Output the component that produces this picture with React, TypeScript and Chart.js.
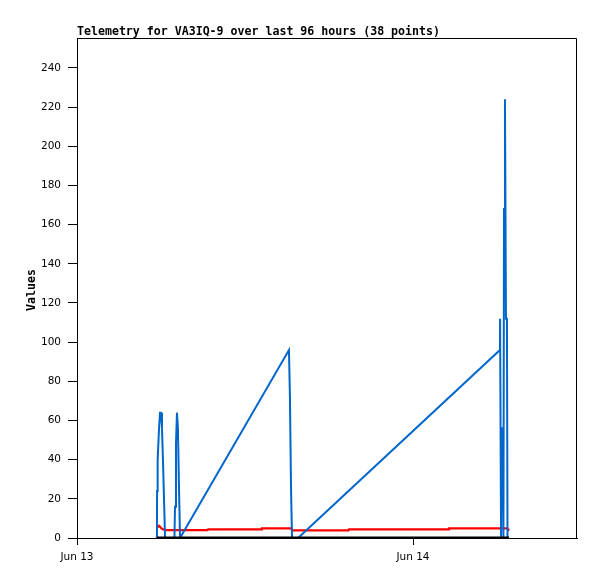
import React, { useEffect, useRef } from "react";
import { Chart, registerables } from "chart.js";

Chart.register(...registerables);

// Time in hours since Jun 13 00:00
const blueHours = [5.71, 5.72, 5.76, 5.86, 5.93, 6.0, 6.07, 6.14, 6.2, 6.29, 6.96, 7.0, 7.07, 7.14, 7.21, 7.29, 7.36, 15.14, 15.21, 15.29, 15.36, 15.79, 30.21, 30.22, 30.29, 30.36, 30.43, 30.46, 30.5, 30.57, 30.64, 30.71, 30.75];
const blueValues = [0, 24, 40, 56, 64, 64, 56, 40, 24, 0, 0, 16, 48, 64, 56, 24, 0, 96, 72, 24, 0, 0, 96, 112, 0, 56, 56, 0, 168, 224, 112, 112, 0];

const redHours = [5.71, 5.86, 6.04, 6.29, 9.32, 9.36, 13.18, 13.21, 15.32, 15.36, 19.39, 19.43, 26.54, 26.57, 30.75, 30.86];
const redValues = [5.2, 6.2, 4.8, 4.0, 4.0, 4.4, 4.4, 4.9, 4.9, 3.9, 3.9, 4.4, 4.4, 4.9, 4.9, 3.8];

const blackHours = [5.71, 30.86];
const blackValues = [0, 0];

const xTickHours = [0, 24];
const xTickLabels = ["Jun 13", "Jun 14"];
const yTickStep = 20;
const yMax = 255.3;
const xMax = 35.714;

const titleText = "Telemetry for VA3IQ-9 over last 96 hours (38 points)";
const yAxisLabel = "Values";

function pts(xs: number[], ys: number[]) {
  return xs.map((x, i) => ({ x, y: ys[i] }));
}

export default function App() {
  const ref = useRef<HTMLCanvasElement | null>(null);

  useEffect(() => {
    const canvas = ref.current;
    if (!canvas) return;
    const monoBold = "bold 11.6px 'DejaVu Sans Mono'";
    const decor = {
      id: "decor",
      beforeDraw(chart: any) {
        const ctx = chart.ctx;
        ctx.save();
        ctx.fillStyle = "#ffffff";
        ctx.fillRect(0, 0, chart.width, chart.height);
        ctx.restore();
      },
      afterDraw(chart: any) {
        const ctx = chart.ctx;
        const a = chart.chartArea;
        ctx.save();
        ctx.strokeStyle = "#000000";
        ctx.lineWidth = 1;
        ctx.beginPath();
        ctx.moveTo(Math.round(a.left) + 0.5, Math.round(a.top) + 0.5);
        ctx.lineTo(Math.round(a.right) - 0.5, Math.round(a.top) + 0.5);
        ctx.lineTo(Math.round(a.right) - 0.5, Math.round(a.bottom));
        ctx.stroke();
        ctx.fillStyle = "#000000";
        ctx.font = monoBold;
        ctx.textBaseline = "alphabetic";
        ctx.textAlign = "left";
        ctx.fillText(titleText, a.left, 35);
        ctx.translate(35, (a.top + a.bottom) / 2);
        ctx.rotate(-Math.PI / 2);
        ctx.textAlign = "center";
        ctx.fillText(yAxisLabel, -2, 0);
        ctx.restore();
      },
    };

    const chart = new Chart(canvas, {
      type: "line",
      data: {
        datasets: [
          {
            label: "black",
            data: pts(blackHours, blackValues),
            borderColor: "#000000",
            borderWidth: 3,
            pointRadius: 0,
            tension: 0,
            order: 0,
          },
          {
            label: "blue",
            data: pts(blueHours, blueValues),
            borderColor: "#0066cc",
            borderWidth: 2,
            pointRadius: 0,
            tension: 0,
            order: 1,
          },
          {
            label: "red",
            data: pts(redHours, redValues),
            borderColor: "#ff0000",
            borderWidth: 2.2,
            pointRadius: 0,
            tension: 0,
            order: 2,
          },
        ],
      },
      options: {
        animation: false,
        responsive: false,
        devicePixelRatio: 1,
        parsing: false,
        normalized: true,
        layout: { padding: { top: 38, right: 20, left: 0, bottom: 0 } },
        plugins: {
          legend: { display: false },
          tooltip: { enabled: false },
          title: { display: false },
        },
        scales: {
          x: {
            type: "linear",
            min: 0,
            max: xMax,
            afterFit: (s: any) => {
              s.height = 41;
            },
            afterBuildTicks: (s: any) => {
              s.ticks = xTickHours.map((v) => ({ value: v }));
            },
            ticks: {
              autoSkip: false,
              maxRotation: 0,
              color: "#000000",
              padding: 6,
              font: { family: "'DejaVu Sans'", size: 10.5 },
              callback: (v: any) => {
                const i = xTickHours.indexOf(Number(v));
                return i >= 0 ? xTickLabels[i] : "";
              },
            },
            grid: {
              drawOnChartArea: false,
              drawTicks: true,
              tickLength: 7,
              color: "#000000",
            },
            border: { display: true, color: "#000000", width: 1 },
          },
          y: {
            type: "linear",
            min: 0,
            max: yMax,
            afterFit: (s: any) => {
              s.width = 77;
            },
            ticks: {
              stepSize: yTickStep,
              includeBounds: false,
              color: "#000000",
              padding: 7,
              font: { family: "'DejaVu Sans'", size: 10.5 },
            },
            grid: {
              drawOnChartArea: false,
              drawTicks: true,
              tickLength: 9,
              color: "#000000",
            },
            border: { display: true, color: "#000000", width: 1 },
          },
        },
      },
      plugins: [decor],
    } as any);

    return () => chart.destroy();
  }, []);

  return (
    <div style={{ position: "fixed", left: 0, top: 0, width: 597, height: 579, background: "#fff" }}>
      <canvas ref={ref} width={597} height={579} style={{ display: "block", width: 597, height: 579 }} />
    </div>
  );
}
